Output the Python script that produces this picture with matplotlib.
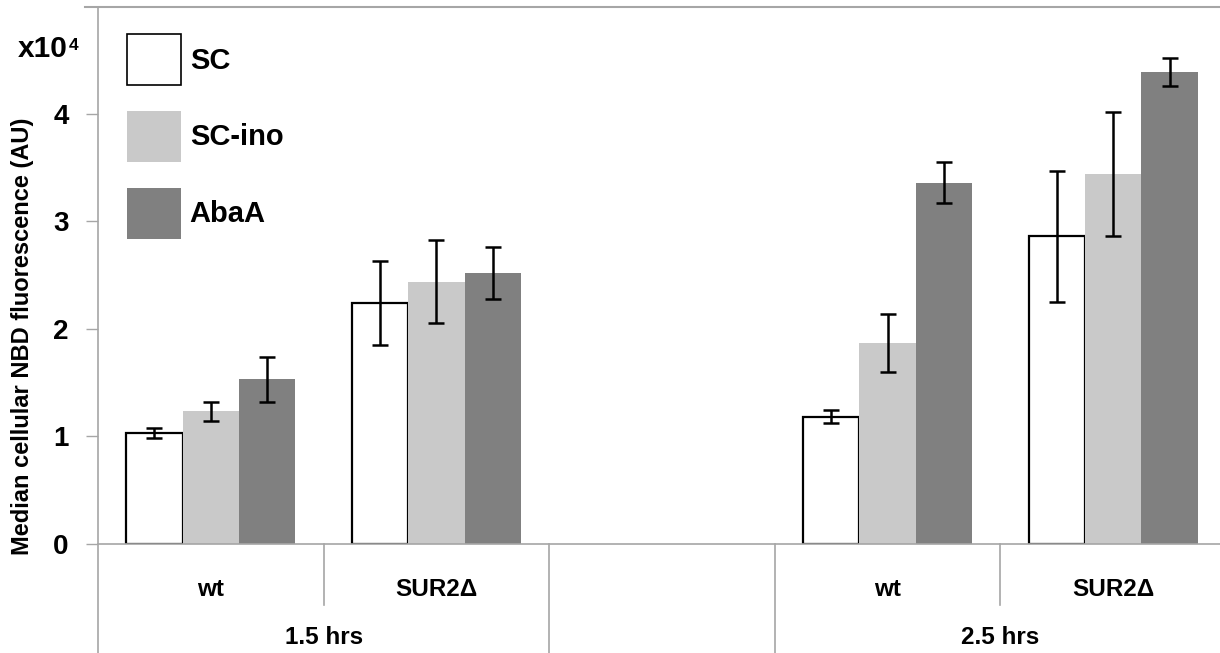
import numpy as np
import matplotlib
matplotlib.use('Agg')
import matplotlib.pyplot as plt
from matplotlib.patches import Patch

plt.rcParams['font.family'] = ['Liberation Sans', 'DejaVu Sans']
plt.rcParams['font.weight'] = 'bold'

# data (x10^4 AU); middle slot is an empty spacer category
strains = ['wt', 'SUR2Δ', '', 'wt', 'SUR2Δ']
times = ['1.5 hrs', '2.5 hrs']
series = ['SC', 'SC-ino', 'AbaA']
sc = [1.03, 2.24, np.nan, 1.18, 2.86]
sc_ino = [1.23, 2.44, np.nan, 1.87, 3.44]
abaa = [1.53, 2.52, np.nan, 3.36, 4.39]
err_sc = [0.05, 0.39, np.nan, 0.06, 0.61]
err_ino = [0.09, 0.39, np.nan, 0.27, 0.58]
err_abaa = [0.21, 0.24, np.nan, 0.19, 0.13]

grey = '#A6A6A6'
fig = plt.figure(figsize=(12.2, 6.53), dpi=100)
ax = fig.add_axes([98/1220, 109.5/653, 1122/1220, 536.8/653])

x = np.arange(len(strains))
w = 0.25
vals = [sc, sc_ino, abaa]
errs = [err_sc, err_ino, err_abaa]
fills = ['white', '#C9C9C9', '#808080']
edges = ['black', 'none', 'none']
for i in range(3):
    pos = x + (i - 1)*w
    ax.bar(pos, vals[i], w, color=fills[i], edgecolor=edges[i],
           linewidth=1.6 if i == 0 else 0, label=series[i], zorder=2)
    ax.errorbar(pos, vals[i], yerr=errs[i], fmt='none', ecolor='black',
                elinewidth=1.8, capsize=6, capthick=1.8, zorder=3)

ax.set_xlim(-0.5, -0.5 + 1122/225.6)
ax.set_ylim(0, 5)
ax.set_yticks([0, 1, 2, 3, 4])
ax.set_yticklabels(['0', '1', '2', '3', '4'], fontsize=20, fontweight='bold')
ax.tick_params(axis='y', direction='out', length=9, width=1, color=grey, pad=12)
ax.set_xticks([])
for s in ['top', 'right', 'left']:
    ax.spines[s].set_visible(False)
ax.spines['bottom'].set_color(grey)
ax.spines['bottom'].set_linewidth(1.2)

# frame lines: left axis down to the label rows, top border
ax.plot([-0.5, -0.5], [-0.204, 1.0], color=grey, lw=1.2,
        transform=ax.get_xaxis_transform(), clip_on=False)
ax.plot([-13/1122, 1.0], [1.0, 1.0], color=grey, lw=1.5,
        transform=ax.transAxes, clip_on=False)

# hierarchical category axis
tr = ax.get_xaxis_transform()
for xs in [0.5, 3.5]:
    ax.plot([xs, xs], [0, -0.1146], color=grey, lw=1.2, transform=tr, clip_on=False)
for xs in [1.5, 2.5]:
    ax.plot([xs, xs], [0, -0.204], color=grey, lw=1.2, transform=tr, clip_on=False)
for xi, lab in zip(x, strains):
    ax.text(xi, -0.0866, lab, transform=tr, ha='center', va='center',
            fontsize=17.5, fontweight='bold')
for xi, lab in zip([0.5, 3.5], times):
    ax.text(xi, -0.176, lab, transform=tr, ha='center', va='center',
            fontsize=17.5, fontweight='bold')

fig.text(23/1220, 1 - 336/653, 'Median cellular NBD fluorescence (AU)',
         rotation=90, ha='center', va='center', fontsize=17, fontweight='bold')
fig.text(18/1220, 1 - 57/653, 'x10', ha='left', va='baseline',
         fontsize=21.5, fontweight='bold')
fig.text(69/1220, 1 - 50/653, '4', ha='left', va='baseline',
         fontsize=12.5, fontweight='bold')

handles = [Patch(facecolor=fills[i], edgecolor='black' if i == 0 else 'none',
                 linewidth=1.2) for i in range(3)]
ax.legend(handles, series, loc='upper left', frameon=False,
          bbox_to_anchor=(127/1220, 1 - 34/653), bbox_transform=fig.transFigure,
          borderpad=0, borderaxespad=0, handlelength=1.85, handleheight=2.31,
          handletextpad=0.3, labelspacing=0.89,
          prop={'size': 21, 'weight': 'bold'})

fig.savefig('out.png', dpi=100)
